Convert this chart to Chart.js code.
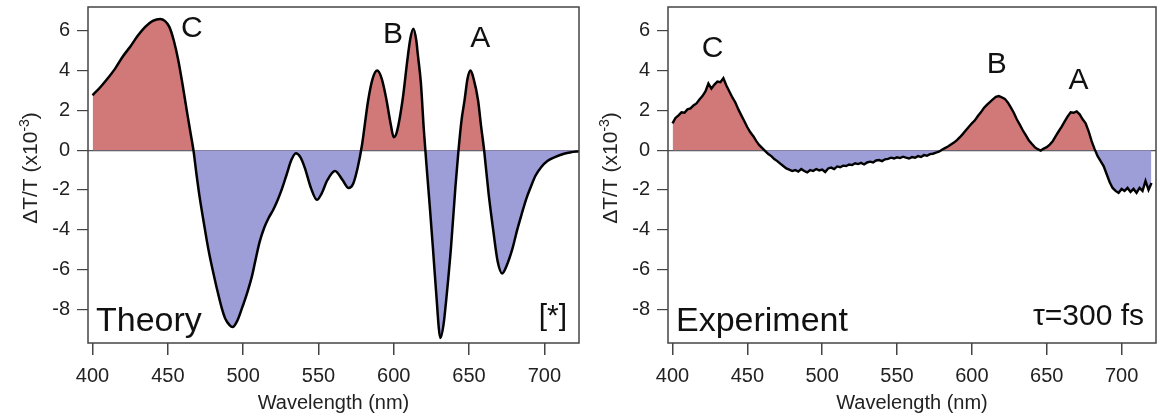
<!DOCTYPE html>
<html>
<head>
<meta charset="utf-8">
<script src="https://cdn.jsdelivr.net/npm/chart.js@4.4.0/dist/chart.umd.min.js"></script>
<style>
  html, body { margin: 0; padding: 0; background: #fff; }
  #wrap { position: relative; width: 1157px; height: 420px; }
  .panel { position: absolute; top: 0; height: 420px; }
  #p1 { left: 0; width: 580px; }
  #p2 { left: 580px; width: 577px; }
</style>
</head>
<body>
<div id="wrap">
  <div class="panel" id="p1"><canvas id="theory"></canvas></div>
  <div class="panel" id="p2"><canvas id="experiment"></canvas></div>
</div>
<script>
// ---- datos ----
const tickWl = [400, 450, 500, 550, 600, 650, 700];
const tickDT = [-8, -6, -4, -2, 0, 2, 4, 6];

// Teoría: longitud de onda (nm) y ΔT/T (x10^-3)
const theoryWl = [
  400, 405, 410, 415, 420, 425, 430, 435, 440, 445, 448, 451, 454, 457, 460, 463, 465, 467,
  469, 471, 474, 476, 478, 480, 483, 486, 488, 491, 493, 496, 499, 503, 506, 508, 511, 514, 517,
  520, 523, 526, 529, 532, 535, 538, 541, 545, 549, 552, 556, 561, 566, 570, 573, 576, 579,
  583, 586, 589, 592, 595, 598, 600, 602, 606, 609, 611, 613, 615, 616, 618, 620, 622, 624,
  626, 628, 631, 633, 635, 638, 641, 643, 645, 647, 649, 651, 653, 656, 658, 660, 663, 666,
  669, 672, 675, 679, 682, 685, 688, 691, 694, 698, 702, 707, 713, 718, 723
];
const theoryVal = [
  2.76, 3.15, 3.6, 4.1, 4.7, 5.2, 5.75, 6.2, 6.5, 6.6, 6.5, 6.2, 5.5, 4.5, 3.2, 1.8, 0.9, 0.0,
  -1.2, -2.3, -3.7, -4.6, -5.4, -6.1, -7.1, -8.0, -8.45, -8.8, -8.9, -8.6, -8.0, -7.1, -6.3, -5.6, -4.6, -3.9, -3.4,
  -3.0, -2.5, -1.9, -1.2, -0.5, -0.15, -0.35, -0.9, -1.9, -2.5, -2.2, -1.5, -1.05, -1.5, -1.9, -1.7, -0.9, 0.3,
  2.5, 3.6, 4.0, 3.6, 2.6, 1.3, 0.65, 0.9, 2.6, 4.5, 5.6, 6.1, 5.5, 4.8, 3.4, 1.0, -1.0, -2.9,
  -4.9, -7.0, -9.45, -8.8, -7.4, -4.9, -1.8, 0.0, 1.5, 2.5, 3.6, 4.0, 3.6, 2.5, 1.2, 0.0, -2.2, -4.0,
  -5.6, -6.2, -5.8, -4.9, -4.0, -3.2, -2.45, -1.85, -1.3, -0.85, -0.55, -0.35, -0.18, -0.1, -0.05
];

// Experimento (τ = 300 fs)
const expWl = [
  400, 402, 404, 406, 408, 410, 412, 414, 416, 418, 420, 422, 424, 426, 428, 430, 432, 434, 436, 438,
  440, 442, 444, 446, 448, 450, 452, 454, 456, 458, 460, 462, 464, 466, 468, 470, 472, 474, 476, 478,
  480, 482, 484, 486, 488, 490, 492, 494, 496, 498, 500, 502, 504, 506, 508, 510, 512, 514, 516, 518,
  520, 522, 524, 526, 528, 530, 532, 534, 536, 538, 540, 542, 544, 546, 548, 550, 552, 554, 556, 558,
  560, 562, 564, 566, 568, 570, 572, 574, 576, 578, 580, 582, 584, 586, 588, 590, 592, 594, 596, 598,
  600, 602, 604, 606, 608, 610, 612, 614, 616, 618, 620, 622, 624, 626, 628, 630, 632, 634, 636, 638,
  640, 642, 644, 646, 648, 650, 652, 654, 656, 658, 660, 662, 664, 666, 668, 670, 672, 674, 676, 678,
  680, 682, 684, 686, 688, 690, 692, 694, 696, 698, 700, 702, 704, 706, 708, 710, 712, 714, 716, 718, 720
];
const expVal = [
  1.35, 1.62, 1.75, 1.9, 1.88, 2.05, 2.1, 2.25, 2.35, 2.55, 2.72, 2.95, 3.35, 3.1, 3.3, 3.45, 3.42, 3.62, 3.25, 2.95,
  2.65, 2.4, 2.05, 1.75, 1.45, 1.15, 0.9, 0.7, 0.45, 0.25, 0.1, -0.05, -0.2, -0.3, -0.45, -0.55, -0.68, -0.8, -0.92, -0.98,
  -1.05, -1.0, -1.08, -0.95, -1.05, -1.12, -1.0, -1.05, -0.95, -1.02, -0.98, -1.1, -0.92, -0.88, -0.95, -0.82, -0.86, -0.78, -0.8, -0.72,
  -0.75, -0.66, -0.7, -0.64, -0.72, -0.62, -0.58, -0.62, -0.52, -0.5, -0.55, -0.46, -0.44, -0.38, -0.42, -0.36, -0.4, -0.33, -0.38, -0.42,
  -0.35, -0.38, -0.3, -0.34, -0.25, -0.28, -0.2, -0.18, -0.12, -0.08, 0.02, 0.1, 0.18, 0.28, 0.38, 0.5, 0.65, 0.82, 1.0, 1.18,
  1.35, 1.5, 1.72, 1.9, 2.12, 2.28, 2.42, 2.55, 2.68, 2.72, 2.66, 2.58, 2.4, 2.15, 1.88, 1.55, 1.28, 1.0, 0.75, 0.5,
  0.32, 0.15, 0.05, -0.02, 0.08, 0.15, 0.28, 0.45, 0.7, 0.95, 1.18, 1.45, 1.7, 1.9, 1.88, 1.95, 1.8, 1.55, 1.35, 0.95,
  0.45, 0.05, -0.3, -0.55, -0.8, -1.2, -1.6, -1.9, -2.05, -2.15, -1.95, -2.05, -1.9, -2.1, -1.95, -2.15, -1.9, -2.05, -1.55, -2.0, -1.65
];

const ROJO = 'rgb(209,121,121)';
const AZUL = 'rgb(157,157,216)';
const FUENTE = '"Liberation Sans", Arial, Helvetica, sans-serif';

function puntos(xs, ys) {
    return xs.map(function(x, i) { return { x: x, y: ys[i] }; });
}

// Marco, letras de picos, títulos de ejes y etiquetas del panel
function decorar(cfg) {
    return {
        id: 'decorar',
        afterDraw: function(chart) {
            const ctx = chart.ctx;
            const a = chart.chartArea;
            const sx = chart.scales.x, sy = chart.scales.y;
            ctx.save();
            ctx.strokeStyle = '#444';
            ctx.lineWidth = 1.5;
            ctx.strokeRect(a.left, a.top, a.right - a.left, a.bottom - a.top);

            ctx.fillStyle = '#111';
            ctx.font = '30px ' + FUENTE;
            ctx.textAlign = 'center';
            ctx.textBaseline = 'middle';
            cfg.picos.forEach(function(p) {
                ctx.fillText(p.t, sx.getPixelForValue(p.x), sy.getPixelForValue(p.y));
            });

            // etiqueta del panel (Theory / Experiment)
            ctx.textBaseline = 'alphabetic';
            ctx.textAlign = 'left';
            ctx.font = '34px ' + FUENTE;
            ctx.fillText(cfg.nombre, a.left + 8, a.bottom - 12);
            ctx.textAlign = 'right';
            ctx.font = '30px ' + FUENTE;
            ctx.fillText(cfg.nota, a.right - 12, a.bottom - 18);

            // título eje x
            ctx.fillStyle = '#222';
            ctx.textAlign = 'center';
            ctx.textBaseline = 'middle';
            ctx.font = '20px ' + FUENTE;
            ctx.fillText('Wavelength (nm)', (a.left + a.right) / 2, 403);

            // título eje y con superíndice
            ctx.translate(30, 168);
            ctx.rotate(-Math.PI / 2);
            ctx.textAlign = 'left';
            ctx.textBaseline = 'alphabetic';
            const t1 = '\u0394T/T (x10', t2 = '-3', t3 = ')';
            ctx.font = '21px ' + FUENTE;
            const w1 = ctx.measureText(t1).width, w3 = ctx.measureText(t3).width;
            ctx.font = '14px ' + FUENTE;
            const w2 = ctx.measureText(t2).width;
            let x0 = -(w1 + w2 + w3) / 2;
            ctx.font = '21px ' + FUENTE;
            ctx.fillText(t1, x0, 7);
            ctx.font = '14px ' + FUENTE;
            ctx.fillText(t2, x0 + w1, -1);
            ctx.font = '21px ' + FUENTE;
            ctx.fillText(t3, x0 + w1 + w2, 7);
            ctx.restore();
        }
    };
}

function opciones() {
    return {
        responsive: true,
        maintainAspectRatio: false,
        animation: false,
        layout: { padding: { top: 7, right: 1, left: 0, bottom: 0 } },
        plugins: { legend: { display: false }, tooltip: { enabled: false } },
        scales: {
            x: {
                type: 'linear',
                min: 397, max: 723,
                border: { display: false },
                grid: { drawOnChartArea: false, tickColor: '#444', tickLength: 12, lineWidth: 1.5 },
                ticks: { font: { family: FUENTE, size: 20 }, color: '#222', padding: 9, maxRotation: 0, autoSkip: false },
                afterBuildTicks: function(s) { s.ticks = tickWl.map(function(v) { return { value: v }; }); },
                afterFit: function(s) { s.height = 77; s.paddingLeft = 0; s.paddingRight = 0; }
            },
            y: {
                min: -9.7, max: 7.2,
                border: { display: false },
                grid: {
                    color: function(c) { return c.tick && c.tick.value === 0 ? '#555' : 'rgba(0,0,0,0)'; },
                    tickColor: '#444', tickLength: 11, lineWidth: 1.2
                },
                ticks: { font: { family: FUENTE, size: 20 }, color: '#222', padding: 7 },
                afterBuildTicks: function(s) { s.ticks = tickDT.map(function(v) { return { value: v }; }); },
                afterFit: function(s) { s.width = 88; s.paddingTop = 0; s.paddingBottom = 0; }
            }
        }
    };
}

document.addEventListener('DOMContentLoaded', function() {
    new Chart(document.getElementById('theory'), {
        type: 'line',
        data: {
            datasets: [{
                data: puntos(theoryWl, theoryVal),
                borderColor: '#000',
                borderWidth: 2.5,
                pointRadius: 0,
                cubicInterpolationMode: 'monotone',
                fill: { target: 'origin', above: ROJO, below: AZUL }
            }]
        },
        options: opciones(),
        plugins: [decorar({
            nombre: 'Theory', nota: '[*]',
            picos: [{ t: 'C', x: 466, y: 6.1 }, { t: 'B', x: 599.5, y: 5.8 }, { t: 'A', x: 657.5, y: 5.6 }]
        })]
    });

    new Chart(document.getElementById('experiment'), {
        type: 'line',
        data: {
            datasets: [{
                data: puntos(expWl, expVal),
                borderColor: '#000',
                borderWidth: 2.4,
                pointRadius: 0,
                tension: 0,
                fill: { target: 'origin', above: ROJO, below: AZUL }
            }]
        },
        options: opciones(),
        plugins: [decorar({
            nombre: 'Experiment', nota: '\u03c4=300 fs',
            picos: [{ t: 'C', x: 426.7, y: 5.1 }, { t: 'B', x: 616.7, y: 4.3 }, { t: 'A', x: 671.3, y: 3.5 }]
        })]
    });
});
</script>
</body>
</html>
